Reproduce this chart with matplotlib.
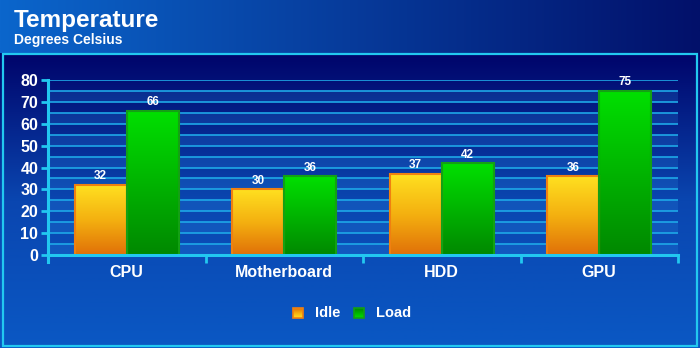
import numpy as np
import matplotlib.pyplot as plt
from matplotlib.colors import LinearSegmentedColormap
from matplotlib.patches import Rectangle

categories = ["CPU", "Motherboard", "HDD", "GPU"]
idle = [32, 30, 37, 36]
load = [66, 36, 42, 75]
series_names = ["Idle", "Load"]
y_ticks = [0, 10, 20, 30, 40, 50, 60, 70, 80]

W, H = 700, 348
fig = plt.figure(figsize=(W / 100, H / 100), dpi=100)

# --- background: title band + framed gradient panel ---
bg = fig.add_axes([0, 0, 1, 1], zorder=-5)
bg.set_xlim(0, W)
bg.set_ylim(H, 0)
bg.axis("off")

band = LinearSegmentedColormap.from_list("band", ["#0b66cc", "#02106a"])
bg.imshow(np.linspace(0, 1, 256)[None, :], cmap=band, aspect="auto",
          extent=[0, W, 53, 0])
panel = LinearSegmentedColormap.from_list("panel", ["#00046a", "#0a46b0", "#0a58c4"])
bg.imshow(np.linspace(0, 1, 256)[:, None], cmap=panel, aspect="auto",
          extent=[0, W, H, 53])
bg.add_patch(Rectangle((3, 53.5), W - 6, H - 56, fill=False,
                       edgecolor="#22c8f0", lw=1.6))

fig.text(14 / W, 1 - 20 / H, "Temperature", color="white", fontsize=17.5,
         fontweight="bold", va="center", family="Liberation Sans")
fig.text(14 / W, 1 - 40 / H, "Degrees Celsius", color="white", fontsize=10,
         fontweight="bold", va="center", family="Liberation Sans")

# --- plot area ---
x0, x1 = 48, 678
ytop, ybot = 80, 255
ax = fig.add_axes([x0 / W, 1 - ybot / H, (x1 - x0) / W, (ybot - ytop) / H])
ax.patch.set_alpha(0)

# alternating bands and grid lines every 5
for lo in range(0, 80, 10):
    ax.axhspan(lo, lo + 5, color="#2a8ae0", alpha=0.22, lw=0, zorder=0)
for v in range(5, 81, 5):
    ax.axhline(v, color="#1ea8e8", lw=1.2, zorder=1)

idle_cmap = LinearSegmentedColormap.from_list("idle", ["#e07008", "#f4b010", "#ffe020"])
load_cmap = LinearSegmentedColormap.from_list("load", ["#008800", "#00b400", "#00e000"])
grad = np.linspace(0, 1, 256)[:, None]

bw = 0.33
for i, (a, b) in enumerate(zip(idle, load)):
    for val, off, cmap, edge in [(a, -bw, idle_cmap, "#f08010"),
                                 (b, 0.0, load_cmap, "#14a014")]:
        left = i + 0.5 + off
        ax.imshow(grad, cmap=cmap, aspect="auto", origin="lower",
                  extent=[left, left + bw, 0, val], zorder=2)
        ax.add_patch(Rectangle((left, 0), bw, val, fill=False,
                               edgecolor=edge, lw=1.5, zorder=3))
        ax.text(left + bw / 2, val + 1.2, str(val), color="white",
                fontsize=8.5, fontweight="bold", ha="center", va="bottom",
                family="Liberation Sans", zorder=4)
ax.set_xlim(0, len(categories))
ax.set_ylim(0, 80)

for s in ["top", "right"]:
    ax.spines[s].set_visible(False)
for s in ["left", "bottom"]:
    ax.spines[s].set_color("#22c8f0")
    ax.spines[s].set_linewidth(2.2)
    ax.spines[s].set_zorder(5)
ax.spines["left"].set_bounds(-3, 80)
ax.spines["left"].set_clip_on(False)

ax.set_yticks(y_ticks)
ax.set_yticklabels([str(t) for t in y_ticks], color="white", fontsize=11.5,
                   fontweight="bold", family="Liberation Sans")
ax.tick_params(axis="y", length=5, width=2, color="#22c8f0", pad=2)

ax.set_xticks(range(len(categories) + 1))
ax.set_xticklabels([])
ax.tick_params(axis="x", direction="out", length=6, width=2, color="#22c8f0")
ax.set_xticks([i + 0.5 for i in range(len(categories))], minor=True)
ax.set_xticklabels(categories, minor=True, color="white", fontsize=11.5,
                   fontweight="bold", family="Liberation Sans")
ax.tick_params(axis="x", which="minor", length=0, pad=7)

# legend
for x, name, cmap, edge in [(298, series_names[0], idle_cmap, "#f08010"),
                            (359, series_names[1], load_cmap, "#14a014")]:
    bg.imshow(grad, cmap=cmap, aspect="auto", origin="upper",
              extent=[x - 5, x + 5, 318, 308], zorder=1)
    bg.add_patch(Rectangle((x - 5, 308), 10, 10, fill=False,
                           edgecolor=edge, lw=1.2, zorder=2))
    bg.text(x + 17, 313, name, color="white", fontsize=10.5, fontweight="bold",
            va="center", ha="left", family="Liberation Sans")
bg.set_xlim(0, W)
bg.set_ylim(H, 0)

fig.savefig("out.png", dpi=100)
